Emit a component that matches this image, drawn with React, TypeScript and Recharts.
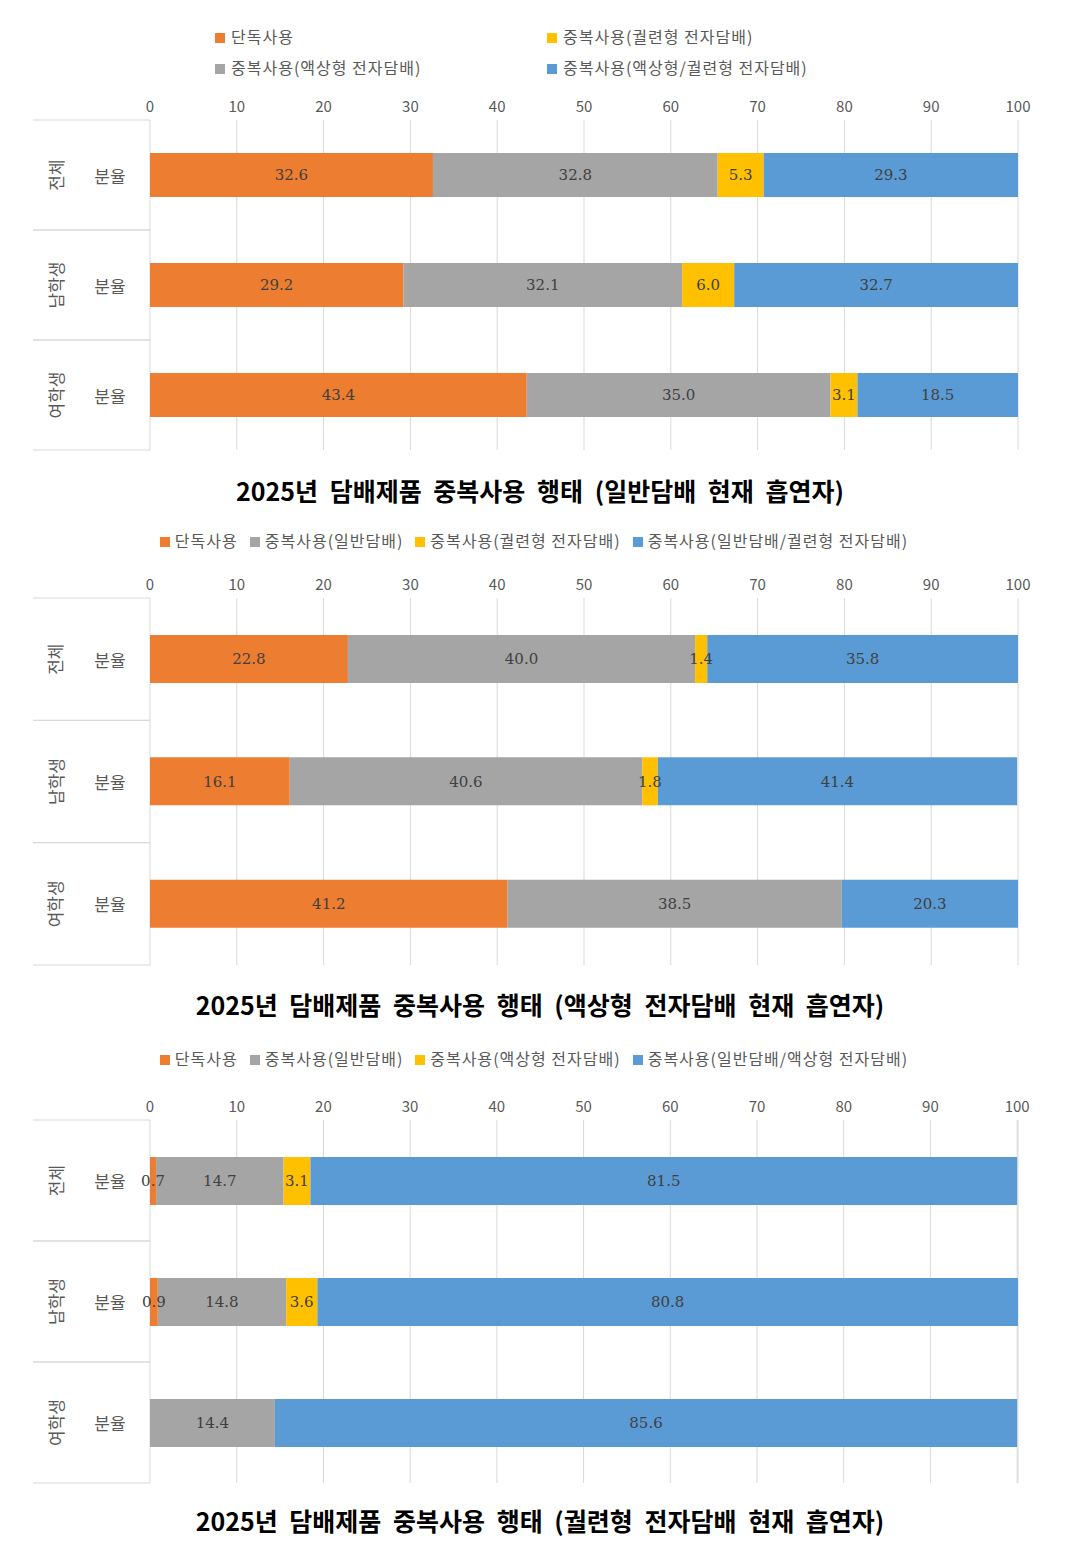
import { Bar, BarChart, CartesianGrid, LabelList, XAxis, YAxis } from "recharts";

const groups = ["전체", "남학생", "여학생"];
const colors = ["#ED7D31", "#A5A5A5", "#FFC000", "#5B9BD5"];
const xTicks = [0, 10, 20, 30, 40, 50, 60, 70, 80, 90, 100];

const legend1 = ["단독사용", "중복사용(액상형 전자담배)", "중복사용(궐련형 전자담배)", "중복사용(액상형/궐련형 전자담배)"];
const legend2 = ["단독사용", "중복사용(일반담배)", "중복사용(궐련형 전자담배)", "중복사용(일반담배/궐련형 전자담배)"];
const legend3 = ["단독사용", "중복사용(일반담배)", "중복사용(액상형 전자담배)", "중복사용(일반담배/액상형 전자담배)"];

const values1 = [
  [32.6, 29.2, 43.4],
  [32.8, 32.1, 35.0],
  [5.3, 6.0, 3.1],
  [29.3, 32.7, 18.5],
];
const values2 = [
  [22.8, 16.1, 41.2],
  [40.0, 40.6, 38.5],
  [1.4, 1.8, 0.0],
  [35.8, 41.4, 20.3],
];
const values3 = [
  [0.7, 0.9, 0.0],
  [14.7, 14.8, 14.4],
  [3.1, 3.6, 0.0],
  [81.5, 80.8, 85.6],
];

const titles = [
  "2025년 담배제품 중복사용 행태 (일반담배 현재 흡연자)",
  "2025년 담배제품 중복사용 행태 (액상형 전자담배 현재 흡연자)",
  "2025년 담배제품 중복사용 행태 (궐련형 전자담배 현재 흡연자)",
];

const font = "'Noto Sans CJK KR', 'Noto Sans', sans-serif";

function buildRows(values: number[][]) {
  return groups.map((g, i) => ({
    group: g,
    s0: values[0][i],
    s1: values[1][i],
    s2: values[2][i],
    s3: values[3][i],
  }));
}

function GroupTick(props: any) {
  const { y, payload, band } = props;
  return (
    <g>
      <text
        x={55}
        y={y}
        transform={`rotate(-90 55 ${y})`}
        textAnchor="middle"
        dominantBaseline="central"
        fontSize={17}
        fill="#595959"
        fontFamily={font}
      >
        {payload.value}
      </text>
      <text x={110} y={y} textAnchor="middle" dominantBaseline="central" fontSize={17} fill="#595959" fontFamily={font}>
        분율
      </text>
      <line x1={33} x2={150} y1={y - band / 2} y2={y - band / 2} stroke="#D9D9D9" />
      <line x1={33} x2={150} y1={y + band / 2} y2={y + band / 2} stroke="#D9D9D9" />
    </g>
  );
}

function Panel({
  top,
  plotTop,
  plotBottom,
  barSize,
  values,
  legend,
  legendRows,
  legendY,
  title,
  titleY,
}: {
  top: number;
  plotTop: number;
  plotBottom: number;
  barSize: number;
  values: number[][];
  legend: string[];
  legendRows: boolean;
  legendY: number;
  title: string;
  titleY: number;
}) {
  const height = plotBottom - top + 10;
  const band = (plotBottom - plotTop) / 3;
  const rows = buildRows(values);
  return (
    <>
      {legendRows ? (
        <div style={{ position: "absolute", top: legendY - 12, left: 215, width: 700, fontFamily: font, fontSize: 16, color: "#595959", letterSpacing: 1, lineHeight: "31px" }}>
          {[0, 2, 1, 3].map((k, idx) => (
            <span key={k} style={{ display: "inline-block", width: idx % 2 === 0 ? 332 : 340 }}>
              <span style={{ display: "inline-block", width: 10, height: 10, background: colors[k], marginRight: 6 }} />
              {legend[k]}
            </span>
          ))}
        </div>
      ) : (
        <div style={{ position: "absolute", top: legendY - 12, left: 0, width: 1080, textAlign: "center", fontFamily: font, fontSize: 16, color: "#595959", letterSpacing: 1 }}>
          {legend.map((l, k) => (
            <span key={k} style={{ marginRight: 12 }}>
              <span style={{ display: "inline-block", width: 10, height: 10, background: colors[k], marginRight: 5 }} />
              {l}
            </span>
          ))}
        </div>
      )}
      <div style={{ position: "absolute", top, left: 0 }}>
        <BarChart
          width={1080}
          height={height}
          data={rows}
          layout="vertical"
          barCategoryGap={(band - barSize) / 2}
          margin={{ top: plotTop - top - 30, right: 62, left: 0, bottom: 10 }}
        >
          <CartesianGrid horizontal={false} stroke="#D9D9D9" />
          <XAxis
            type="number"
            orientation="top"
            domain={[0, 100]}
            ticks={xTicks}
            height={30}
            axisLine={false}
            tickLine={false}
            tick={{ fontSize: 15, fill: "#595959", fontFamily: font }}
          />
          <YAxis
            type="category"
            dataKey="group"
            width={150}
            axisLine={false}
            tickLine={false}
            tick={<GroupTick band={band} />}
          />
          {["s0", "s1", "s2", "s3"].map((k, i) => (
            <Bar key={k} dataKey={k} stackId="a" fill={colors[i]} barSize={barSize} isAnimationActive={false}>
              <LabelList
                dataKey={k}
                position="center"
                formatter={(v: number) => v.toFixed(1)}
                style={{ fontSize: 15, fill: "#404040", fontFamily: "'DejaVu Serif', serif" }}
              />
            </Bar>
          ))}
        </BarChart>
      </div>
      <div style={{ position: "absolute", top: titleY - 18, left: 0, width: 1080, textAlign: "center", fontFamily: font, fontWeight: 700, fontSize: 25, color: "#000", wordSpacing: 6 }}>
        {title}
      </div>
    </>
  );
}

export default function App() {
  return (
    <div style={{ position: "absolute", top: 0, left: 0, width: 1080, height: 1546, background: "#fff" }}>
      <Panel top={68} plotTop={120} plotBottom={450} barSize={44} values={values1} legend={legend1} legendRows legendY={33} title={titles[0]} titleY={490} />
      <Panel top={550} plotTop={598} plotBottom={965} barSize={48} values={values2} legend={legend2} legendRows={false} legendY={540} title={titles[1]} titleY={1004} />
      <Panel top={1068} plotTop={1120} plotBottom={1483} barSize={48} values={values3} legend={legend3} legendRows={false} legendY={1058} title={titles[2]} titleY={1520} />
    </div>
  );
}
